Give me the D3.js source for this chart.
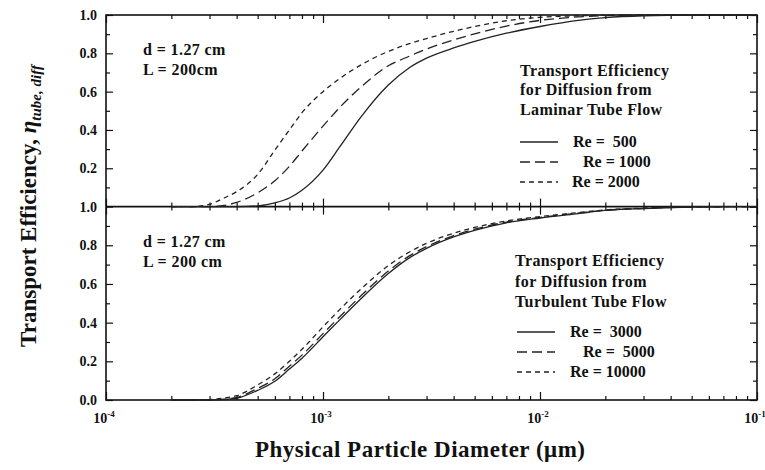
<!DOCTYPE html>
<html>
<head>
<meta charset="utf-8">
<script src="https://cdn.jsdelivr.net/npm/d3@7"></script>
<style>
  body { margin: 0; background: #fff; }
  svg text { font-family: "Liberation Serif", "Times New Roman", serif; font-weight: bold; fill: #111; }
  .tick line { stroke: #111; stroke-width: 1.2; }
  .domain { display: none; }
</style>
</head>
<body>
<div id="chart"></div>
<script>
// particle diameters (um)
const diameters = [2e-4, 2.5e-4, 3e-4, 3.5e-4, 4e-4, 5e-4, 6e-4, 7e-4, 8e-4, 1e-3, 1.2e-3, 1.5e-3,
                   2e-3, 2.5e-3, 3e-3, 4e-3, 5e-3, 7e-3, 1e-2, 1.5e-2, 2e-2, 3e-2, 5e-2, 1e-1];

// laminar tube flow
const laminarLabels = ["Re =  500", "Re = 1000", "Re = 2000"];
const laminar500  = [0, 0, 0, 0, 0, 0.004, 0.02, 0.045, 0.085, 0.19, 0.315, 0.47,
                     0.635, 0.725, 0.775, 0.828, 0.862, 0.905, 0.94, 0.972, 0.986, 0.996, 1, 1];
const laminar1000 = [0, 0, 0, 0.006, 0.022, 0.072, 0.135, 0.21, 0.29, 0.42, 0.52, 0.625,
                     0.735, 0.785, 0.822, 0.87, 0.902, 0.942, 0.972, 0.99, 0.997, 1, 1, 1];
const laminar2000 = [0, 0, 0.012, 0.045, 0.078, 0.168, 0.295, 0.40, 0.49, 0.60, 0.67, 0.74,
                     0.81, 0.85, 0.877, 0.915, 0.94, 0.97, 0.988, 0.996, 0.999, 1, 1, 1];

// turbulent tube flow
const turbulentLabels = ["Re =  3000", "Re =  5000", "Re = 10000"];
const turb3000  = [0, 0, 0, 0.002, 0.009, 0.05, 0.097, 0.16, 0.216, 0.327, 0.417, 0.525,
                   0.654, 0.735, 0.784, 0.843, 0.877, 0.916, 0.941, 0.964, 0.98, 0.99, 0.998, 1];
const turb5000  = [0, 0, 0, 0.004, 0.013, 0.06, 0.11, 0.175, 0.232, 0.343, 0.433, 0.54,
                   0.667, 0.745, 0.793, 0.85, 0.883, 0.92, 0.944, 0.966, 0.981, 0.991, 0.998, 1];
const turb10000 = [0, 0, 0.002, 0.01, 0.022, 0.078, 0.135, 0.2, 0.262, 0.378, 0.47, 0.575,
                   0.695, 0.765, 0.81, 0.862, 0.892, 0.926, 0.948, 0.969, 0.983, 0.992, 0.998, 1];

const xMajor = [1e-4, 1e-3, 1e-2, 1e-1];
const xExponents = ["-4", "-3", "-2", "-1"];
const yMajor = [0, 0.2, 0.4, 0.6, 0.8, 1.0];
const yMinor = [0.1, 0.3, 0.5, 0.7, 0.9];

// layout
const W = 765, H = 470;
const mLeft = 106, mRight = 757, mTop = 15, mMid = 206.6, mBottom = 400;
const dashes = ["none", "10,5", "5,4"];

const svg = d3.select("#chart").append("svg")
  .attr("width", W).attr("height", H);

const x = d3.scaleLog().domain([1e-4, 1e-1]).range([mLeft, mRight]);
const yTop = d3.scaleLinear().domain([0, 1]).range([mMid, mTop]);
const yBot = d3.scaleLinear().domain([0, 1]).range([mBottom, mMid]);

const xMinor = [];
[1e-4, 1e-3, 1e-2].forEach(function(dec) {
  for (let k = 2; k <= 9; k++) xMinor.push(dec * k);
});

function xTicks(yPos, dir) {
  // "down" draws ticks going down from the line, otherwise up
  const maker = dir === "down" ? d3.axisTop : d3.axisBottom;
  svg.append("g").attr("transform", "translate(0," + yPos + ")")
    .call(maker(x).tickValues(xMajor).tickSize(-8).tickFormat(""));
  svg.append("g").attr("transform", "translate(0," + yPos + ")")
    .call(maker(x).tickValues(xMinor).tickSize(-4).tickFormat(""));
}
xTicks(mTop, "down");
xTicks(mMid, "up");
xTicks(mMid, "down");
xTicks(mBottom, "up");

function yTicks(scale, labels) {
  const ax = svg.append("g").attr("transform", "translate(" + mLeft + ",0)")
    .call(d3.axisLeft(scale).tickValues(labels).tickSize(-7).tickPadding(9)
      .tickFormat(d3.format(".1f")));
  ax.selectAll("text").style("font-size", "14px");
  svg.append("g").attr("transform", "translate(" + mLeft + ",0)")
    .call(d3.axisLeft(scale).tickValues(yMinor).tickSize(-4).tickFormat(""));
  svg.append("g").attr("transform", "translate(" + mRight + ",0)")
    .call(d3.axisRight(scale).tickValues(yMajor).tickSize(-7).tickFormat(""));
  svg.append("g").attr("transform", "translate(" + mRight + ",0)")
    .call(d3.axisRight(scale).tickValues(yMinor).tickSize(-4).tickFormat(""));
}
yTicks(yTop, [0.2, 0.4, 0.6, 0.8, 1.0]);
yTicks(yBot, yMajor);

// x tick labels with superscript exponents
const xl = svg.append("g").selectAll("text").data(xMajor).enter().append("text")
  .attr("x", d => x(d) - 2).attr("y", mBottom + 23)
  .attr("text-anchor", "middle").style("font-size", "14px");
xl.append("tspan").text("10");
xl.append("tspan").attr("dy", -6).style("font-size", "9px").text((d, i) => xExponents[i]);

// frame
svg.append("rect").attr("x", mLeft).attr("y", mTop)
  .attr("width", mRight - mLeft).attr("height", mBottom - mTop)
  .attr("fill", "none").attr("stroke", "#111").attr("stroke-width", 1.6);
svg.append("line").attr("x1", mLeft).attr("x2", mRight).attr("y1", mMid).attr("y2", mMid)
  .attr("stroke", "#111").attr("stroke-width", 1.6);

function drawCurves(scale, series) {
  const line = d3.line()
    .x((d, i) => x(diameters[i]))
    .y(d => scale(d))
    .curve(d3.curveMonotoneX);
  series.forEach(function(s, i) {
    svg.append("path").datum(s)
      .attr("d", line)
      .attr("fill", "none")
      .attr("stroke", "#222")
      .attr("stroke-width", 1.3)
      .attr("stroke-dasharray", dashes[i]);
  });
}
drawCurves(yTop, [laminar500, laminar1000, laminar2000]);
drawCurves(yBot, [turb3000, turb5000, turb10000]);

// annotations
function note(lines, x0, y0, size, step) {
  lines.forEach(function(t, i) {
    svg.append("text").attr("x", x0).attr("y", y0 + i * step)
      .style("font-size", size + "px").style("letter-spacing", "0.4px").text(t);
  });
}
note(["d = 1.27 cm", "L = 200cm"], 143, 55, 16, 20);
note(["d = 1.27 cm", "L = 200 cm"], 143, 247, 16, 20);
note(["Transport Efficiency", "for Diffusion from", "Laminar Tube Flow"], 520, 75.5, 16, 19.5);
note(["Transport Efficiency", "for Diffusion from", "Turbulent Tube Flow"], 515, 266, 16, 20.5);

function legend(labels, x0, y0, textX) {
  labels.forEach(function(t, i) {
    const yy = y0 + i * 20;
    svg.append("line").attr("x1", x0).attr("x2", x0 + 38).attr("y1", yy).attr("y2", yy)
      .attr("stroke", "#222").attr("stroke-width", 1.3).attr("stroke-dasharray", dashes[i]);
    svg.append("text").attr("x", textX[i]).attr("y", yy + 5)
      .style("font-size", "16px").style("white-space", "pre").text(t);
  });
}
legend(laminarLabels, 520, 142, [573, 583, 572]);
legend(turbulentLabels, 517, 332, [570, 583, 570]);

// axis titles
svg.append("text").attr("x", 420).attr("y", 457).attr("text-anchor", "middle")
  .attr("textLength", 330).attr("lengthAdjust", "spacing")
  .style("font-size", "23px").text("Physical Particle Diameter (\u03BCm)");

const yt = svg.append("text").attr("transform", "translate(36,206) rotate(-90)")
  .attr("text-anchor", "middle").style("font-size", "23px");
yt.append("tspan").text("Transport Efficiency, ");
yt.append("tspan").style("font-style", "italic").text("\u03B7");
yt.append("tspan").attr("dy", 5).style("font-size", "15px").style("font-style", "italic")
  .text("tube, diff");
</script>
</body>
</html>
